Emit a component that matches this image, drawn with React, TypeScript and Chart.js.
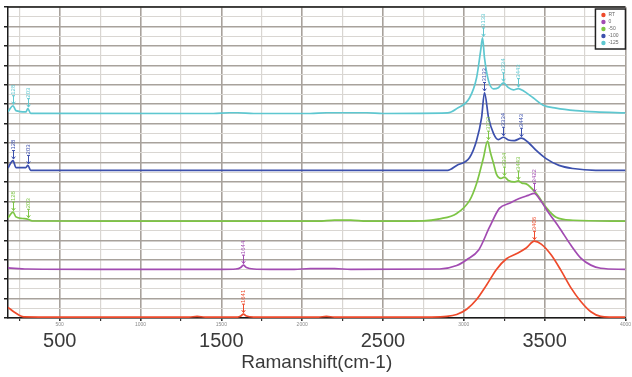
import React, { useEffect, useRef } from 'react';
import { Chart, registerables } from 'chart.js';

Chart.register(...registerables);

const FONT = 'Liberation Sans, Arial, sans-serif';

const X_MIN = 180;
const X_MAX = 4000;
const Y_MIN = 0;
const Y_MAX = 16;

const seriesNames = ['RT', '0', '-50', '-100', '-125'];
const seriesColors = ['#ee4a2b', '#a24bb2', '#7dc545', '#3c50ad', '#5ec7d0'];

// wavenumber (cm-1) and stacked intensity for each series
const redX = [180, 220, 278, 500, 1000, 1300, 1350, 1400, 1600, 1620, 1636, 1655, 1700, 2000, 2100, 2150, 2200, 2500, 2800, 2895, 2956, 3018, 3079, 3141, 3202, 3264, 3325, 3386, 3436, 3479, 3540, 3601, 3663, 3724, 3786, 3847, 3900, 4000];
const redY = [0.55, 0.3, 0.06, 0.05, 0.05, 0.05, 0.08, 0.05, 0.05, 0.1, 0.2, 0.1, 0.05, 0.05, 0.05, 0.08, 0.05, 0.05, 0.05, 0.08, 0.18, 0.45, 0.95, 1.7, 2.5, 3.05, 3.3, 3.6, 3.95, 3.8, 3.25, 2.45, 1.55, 0.85, 0.32, 0.08, 0.05, 0.05];

const purpleX = [180, 300, 800, 1500, 1590, 1620, 1636, 1655, 1700, 1800, 1950, 2050, 2200, 2300, 2850, 2956, 3018, 3092, 3159, 3220, 3282, 3343, 3399, 3436, 3466, 3528, 3589, 3663, 3724, 3786, 3847, 4000];
const purpleY = [2.58, 2.52, 2.5, 2.5, 2.52, 2.6, 2.72, 2.6, 2.52, 2.5, 2.5, 2.54, 2.54, 2.5, 2.52, 2.7, 3.0, 3.5, 4.67, 5.64, 5.9, 6.15, 6.31, 6.41, 6.15, 5.38, 4.67, 3.74, 3.08, 2.72, 2.56, 2.5];

const greenX = [180, 211, 229, 270, 303, 330, 800, 2100, 2200, 2300, 2400, 2750, 2850, 2956, 3036, 3079, 3122, 3147, 3165, 3184, 3202, 3230, 3251, 3276, 3310, 3337, 3360, 3386, 3448, 3509, 3571, 3675, 4000];
const greenY = [5.15, 5.45, 5.2, 5.12, 5.08, 4.99, 4.98, 4.98, 5.04, 5.04, 4.98, 5.0, 5.1, 5.38, 6.05, 6.92, 8.26, 9.1, 8.5, 7.95, 7.4, 7.18, 7.25, 7.08, 7.0, 7.05, 6.94, 6.9, 6.41, 5.69, 5.18, 5.03, 4.98];

const blueX = [180, 211, 229, 290, 303, 320, 2900, 2956, 3036, 3079, 3110, 3128, 3153, 3184, 3214, 3245, 3276, 3313, 3356, 3399, 3448, 3509, 3589, 3675, 3816, 4000];
const blueY = [7.72, 8.1, 7.74, 7.74, 7.85, 7.6, 7.6, 7.85, 8.26, 9.13, 10.31, 11.6, 10.31, 9.49, 9.18, 9.3, 9.16, 9.13, 9.25, 9.03, 8.62, 8.2, 7.85, 7.69, 7.6, 7.6];

const cyanX = [180, 211, 229, 290, 303, 320, 1450, 1550, 1600, 1700, 2050, 2150, 2400, 2500, 2900, 2956, 3036, 3079, 3104, 3116, 3128, 3153, 3184, 3214, 3245, 3276, 3307, 3337, 3368, 3429, 3491, 3571, 3693, 3816, 4000];
const cyanY = [10.62, 10.92, 10.67, 10.6, 10.77, 10.53, 10.52, 10.56, 10.56, 10.52, 10.52, 10.56, 10.56, 10.52, 10.55, 10.77, 11.33, 12.36, 13.74, 14.41, 13.38, 12.2, 11.79, 11.85, 12.1, 11.85, 11.74, 11.8, 11.69, 11.33, 10.95, 10.8, 10.67, 10.6, 10.55];

// peak annotations (x position on the curve, printed label)
const redMarkX = [1636, 3436];
const redMarkText = ['1641', '3406'];
const purpleMarkX = [1636, 3436];
const purpleMarkText = ['1644', '3422'];
const greenMarkX = [211, 303, 3147, 3251, 3337];
const greenMarkText = ['128', '203', '3133', '3334', '3443'];
const blueMarkX = [211, 303, 3128, 3245, 3356];
const blueMarkText = ['128', '203', '3133', '3334', '3443'];
const cyanMarkX = [211, 303, 3116, 3245, 3337];
const cyanMarkText = ['128', '203', '3133', '3334', '3443'];

// axis ticks
const smallTickLabels = [500, 1000, 1500, 2000, 3000, 4000];
const bigTickLabels = [500, 1500, 2500, 3500];
const xTitle = 'Ramanshift(cm-1)';

const seriesX = [redX, purpleX, greenX, blueX, cyanX];
const seriesY = [redY, purpleY, greenY, blueY, cyanY];
const markX = [redMarkX, purpleMarkX, greenMarkX, blueMarkX, cyanMarkX];
const markText = [redMarkText, purpleMarkText, greenMarkText, blueMarkText, cyanMarkText];

const GRID_DARK = '#a8a29c';
const GRID_LIGHT = '#d9d6d2';

const peakMarkPlugin = {
  id: 'peakMarks',
  afterDatasetsDraw(chart: any) {
    const ctx = chart.ctx;
    const xs = chart.scales.x;
    const ys = chart.scales.y;
    markX.forEach((list, si) => {
      const ds = chart.data.datasets[si];
      const color = seriesColors[si];
      list.forEach((mx, mi) => {
        const pt = ds.data.find((p: any) => p.x === mx);
        if (!pt) return;
        const px = Math.round(xs.getPixelForValue(mx)) + 0.5;
        const py = ys.getPixelForValue(pt.y);
        ctx.save();
        ctx.strokeStyle = color;
        ctx.fillStyle = color;
        ctx.lineWidth = 1;
        ctx.beginPath();
        ctx.moveTo(px, py - 1.5);
        ctx.lineTo(px, py - 10);
        ctx.moveTo(px - 1.8, py - 4);
        ctx.lineTo(px, py - 1.5);
        ctx.lineTo(px + 1.8, py - 4);
        ctx.moveTo(px - 1.5, py - 10);
        ctx.lineTo(px + 1.5, py - 10);
        ctx.stroke();
        ctx.translate(px, py - 11);
        ctx.rotate(-Math.PI / 2);
        ctx.font = `6px ${FONT}`;
        ctx.textAlign = 'left';
        ctx.textBaseline = 'middle';
        ctx.fillText(markText[si][mi], 0, 0);
        ctx.restore();
      });
    });
  },
};

const boxLegendPlugin = {
  id: 'boxLegend',
  afterDraw(chart: any) {
    const ctx = chart.ctx;
    const area = chart.chartArea;
    const w = 30;
    const h = 40;
    const left = area.right - w;
    const top = area.top + 2;
    ctx.save();
    ctx.fillStyle = '#ffffff';
    ctx.fillRect(left, top, w, h);
    ctx.strokeStyle = '#222';
    ctx.lineWidth = 1.5;
    ctx.strokeRect(left, top, w, h);
    chart.data.datasets.forEach((ds: any, i: number) => {
      const cy = top + 6 + i * 7;
      ctx.fillStyle = ds.borderColor;
      ctx.beginPath();
      ctx.arc(left + 8, cy, 2.2, 0, Math.PI * 2);
      ctx.fill();
      ctx.fillStyle = '#666';
      ctx.font = `5px ${FONT}`;
      ctx.textAlign = 'left';
      ctx.textBaseline = 'middle';
      ctx.fillText(ds.label, left + 13, cy);
    });
    ctx.restore();
  },
};

const borderPlugin = {
  id: 'areaBorder',
  afterDraw(chart: any) {
    const { ctx, chartArea: a } = chart;
    ctx.save();
    ctx.strokeStyle = '#1a1a1a';
    ctx.lineWidth = 1.5;
    ctx.beginPath();
    ctx.moveTo(a.left, a.top);
    ctx.lineTo(a.right, a.top);
    ctx.stroke();
    ctx.restore();
  },
};

export default function App() {
  const canvasRef = useRef<HTMLCanvasElement | null>(null);

  useEffect(() => {
    const canvas = canvasRef.current;
    if (!canvas) return;

    const gridTicks: number[] = [];
    for (let v = 250; v <= X_MAX; v += 250) gridTicks.push(v);
    const yTicks: number[] = [];
    for (let v = Y_MIN; v <= Y_MAX; v += 0.5) yTicks.push(v);

    const datasets = seriesNames.map((name, i) => ({
      label: name,
      data: seriesX[i].map((x, j) => ({ x, y: seriesY[i][j] })),
      borderColor: seriesColors[i],
      backgroundColor: seriesColors[i],
      borderWidth: 1.7,
      pointRadius: 0,
      cubicInterpolationMode: 'monotone' as const,
      fill: false,
      xAxisID: 'x',
      yAxisID: 'y',
    }));

    const chart = new Chart(canvas, {
      type: 'line',
      data: { datasets },
      options: {
        animation: false,
        responsive: false,
        maintainAspectRatio: false,
        layout: { padding: { left: 4, top: 7, right: 2, bottom: 2 } },
        plugins: {
          legend: { display: false },
          tooltip: { enabled: false },
        },
        scales: {
          x: {
            type: 'linear',
            position: 'bottom',
            weight: 1,
            min: X_MIN,
            max: X_MAX,
            afterBuildTicks: (s: any) => {
              s.ticks = gridTicks.map((v) => ({ value: v }));
            },
            ticks: {
              autoSkip: false,
              maxRotation: 0,
              minRotation: 0,
              padding: 1,
              color: '#8a8a8a',
              font: { size: 5, family: FONT, lineHeight: 1.2 },
              callback: (v: any) => (smallTickLabels.includes(Number(v)) ? String(v) : ''),
            },
            grid: {
              color: (c: any) => (c.tick && c.tick.value % 500 === 0 ? GRID_DARK : GRID_LIGHT),
              lineWidth: (c: any) => (c.tick && c.tick.value % 500 === 0 ? 1.6 : 1.2),
              tickLength: 3,
              tickColor: '#333',
            },
            border: { display: true, color: '#1a1a1a', width: 1.5 },
          },
          x2: {
            type: 'linear',
            position: 'bottom',
            weight: 2,
            min: X_MIN,
            max: X_MAX,
            afterBuildTicks: (s: any) => {
              s.ticks = bigTickLabels.map((v) => ({ value: v }));
            },
            grid: { display: false, drawTicks: false },
            border: { display: false },
            ticks: {
              autoSkip: false,
              maxRotation: 0,
              minRotation: 0,
              padding: 2,
              color: '#3a3a3a',
              font: { size: 20, family: FONT, lineHeight: 1 },
              callback: (v: any) => String(v),
            },
            title: {
              display: true,
              text: xTitle,
              color: '#3a3a3a',
              font: { size: 19, family: FONT, lineHeight: 1 },
              padding: { top: 0, bottom: 3 },
            },
          },
          y: {
            type: 'linear',
            min: Y_MIN,
            max: Y_MAX,
            afterBuildTicks: (s: any) => {
              s.ticks = yTicks.map((v) => ({ value: v }));
            },
            ticks: { display: false },
            grid: {
              color: (c: any) => (c.tick && Number.isInteger(c.tick.value) ? GRID_DARK : GRID_LIGHT),
              lineWidth: (c: any) => (c.tick && Number.isInteger(c.tick.value) ? 1.5 : 1.1),
              tickLength: 4,
              tickColor: (c: any) => (c.tick && Number.isInteger(c.tick.value) ? '#222' : 'rgba(0,0,0,0)'),
            },
            border: { display: true, color: '#1a1a1a', width: 1.5 },
          },
        },
      },
      plugins: [borderPlugin, peakMarkPlugin, boxLegendPlugin],
    } as any);

    return () => {
      chart.destroy();
    };
  }, []);

  return (
    <div style={{ position: 'fixed', left: 0, top: 0, width: 632, height: 377, background: '#ffffff' }}>
      <canvas ref={canvasRef} width={632} height={377} style={{ display: 'block' }} />
    </div>
  );
}
